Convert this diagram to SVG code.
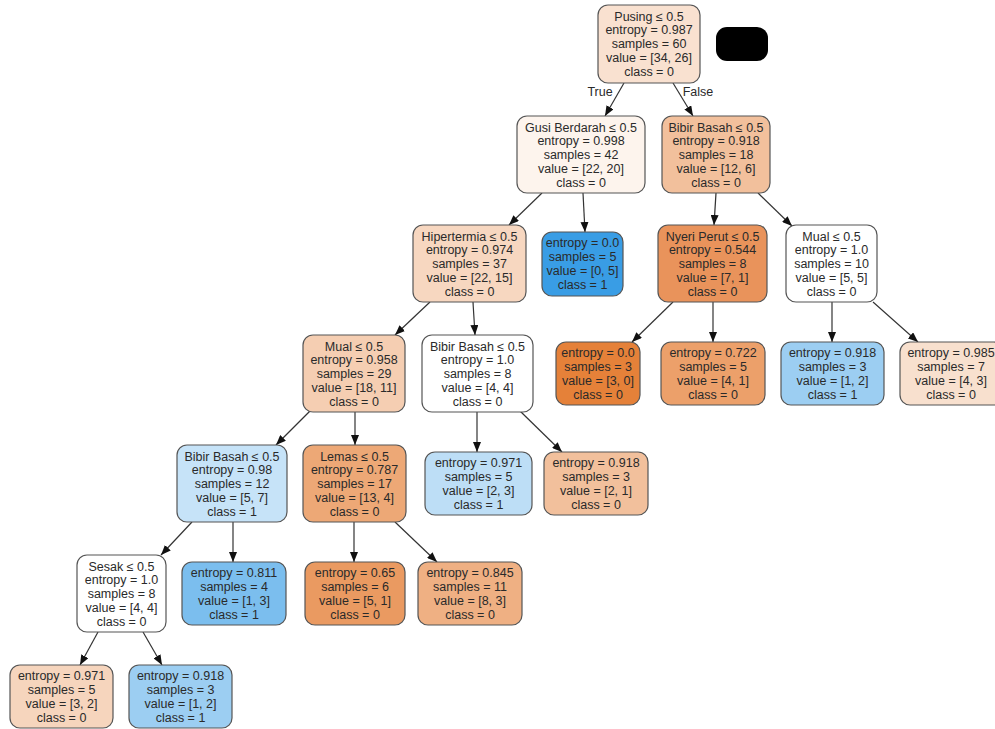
<svg xmlns="http://www.w3.org/2000/svg" width="995" height="729" viewBox="0 0 995 729">
<style>
.n rect{stroke:#555;stroke-width:1.2}
text{font-family:"Liberation Sans",Arial,sans-serif;font-size:12.5px;fill:#2a2a2a;text-anchor:middle}
.e line{stroke:#333;stroke-width:1.2;marker-end:url(#ah)}
</style>
<defs>
<marker id="ah" markerUnits="userSpaceOnUse" markerWidth="10" markerHeight="8" refX="10" refY="4" orient="auto"><path d="M0,0 L10,4 L0,8 Z" fill="#111"/></marker>
</defs>
<rect width="995" height="729" fill="#fff"/>
<g class="e" id="connectors">
<line x1="624" y1="83" x2="605" y2="116"/>
<line x1="673" y1="83" x2="693" y2="116"/>
<line x1="542" y1="193" x2="509" y2="225"/>
<line x1="583" y1="193" x2="585" y2="232"/>
<line x1="716" y1="193" x2="714" y2="225"/>
<line x1="758" y1="193" x2="792" y2="226"/>
<line x1="430" y1="302" x2="395" y2="335"/>
<line x1="473" y1="302" x2="475" y2="335"/>
<line x1="673" y1="302" x2="632" y2="342"/>
<line x1="713" y1="302" x2="713" y2="342"/>
<line x1="832" y1="302" x2="832" y2="342"/>
<line x1="873" y1="302" x2="918" y2="342"/>
<line x1="310" y1="411" x2="276" y2="445"/>
<line x1="355" y1="411" x2="355" y2="445"/>
<line x1="477" y1="411" x2="477" y2="452"/>
<line x1="520" y1="411" x2="562" y2="452"/>
<line x1="192" y1="522" x2="161" y2="555"/>
<line x1="233" y1="522" x2="233" y2="562"/>
<line x1="354" y1="522" x2="354" y2="562"/>
<line x1="395" y1="522" x2="437" y2="562"/>
<line x1="98" y1="632" x2="80" y2="665"/>
<line x1="143" y1="632" x2="162" y2="665"/>
<text x="600" y="96">True</text>
<text x="698" y="96">False</text>
</g>
<rect x="716" y="27" width="52" height="34" rx="11" fill="#000"/>
<g class="n" id="n0"><rect x="598" y="5" width="102" height="78" rx="10" fill="#f9e1d0"/>
<text x="649" y="20.5">Pusing ≤ 0.5</text><text x="649" y="34.3">entropy = 0.987</text><text x="649" y="48.1">samples = 60</text><text x="649" y="61.9">value = [34, 26]</text><text x="649" y="75.7">class = 0</text></g>
<g class="n" id="n1"><rect x="517" y="116" width="128" height="77" rx="10" fill="#fdf4ed"/>
<text x="581" y="131.5">Gusi Berdarah ≤ 0.5</text><text x="581" y="145.3">entropy = 0.998</text><text x="581" y="159.1">samples = 42</text><text x="581" y="172.9">value = [22, 20]</text><text x="581" y="186.7">class = 0</text></g>
<g class="n" id="n2"><rect x="662" y="116" width="108" height="77" rx="10" fill="#f2c09c"/>
<text x="716" y="131.5">Bibir Basah ≤ 0.5</text><text x="716" y="145.3">entropy = 0.918</text><text x="716" y="159.1">samples = 18</text><text x="716" y="172.9">value = [12, 6]</text><text x="716" y="186.7">class = 0</text></g>
<g class="n" id="n3"><rect x="413" y="225" width="113" height="77" rx="10" fill="#f7d7c0"/>
<text x="469.5" y="240.5">Hipertermia ≤ 0.5</text><text x="469.5" y="254.3">entropy = 0.974</text><text x="469.5" y="268.1">samples = 37</text><text x="469.5" y="281.9">value = [22, 15]</text><text x="469.5" y="295.7">class = 0</text></g>
<g class="n" id="n4"><rect x="542" y="232" width="81" height="64" rx="10" fill="#399de5"/>
<text x="582.5" y="247.3">entropy = 0.0</text><text x="582.5" y="261.1">samples = 5</text><text x="582.5" y="274.9">value = [0, 5]</text><text x="582.5" y="288.7">class = 1</text></g>
<g class="n" id="n5"><rect x="658" y="225" width="109" height="77" rx="10" fill="#e9935b"/>
<text x="712.5" y="240.5">Nyeri Perut ≤ 0.5</text><text x="712.5" y="254.3">entropy = 0.544</text><text x="712.5" y="268.1">samples = 8</text><text x="712.5" y="281.9">value = [7, 1]</text><text x="712.5" y="295.7">class = 0</text></g>
<g class="n" id="n6"><rect x="786" y="225" width="91" height="77" rx="10" fill="#ffffff"/>
<text x="831.5" y="240.5">Mual ≤ 0.5</text><text x="831.5" y="254.3">entropy = 1.0</text><text x="831.5" y="268.1">samples = 10</text><text x="831.5" y="281.9">value = [5, 5]</text><text x="831.5" y="295.7">class = 0</text></g>
<g class="n" id="n7"><rect x="303" y="335" width="102" height="77" rx="10" fill="#f5ceb2"/>
<text x="354" y="350.5">Mual ≤ 0.5</text><text x="354" y="364.3">entropy = 0.958</text><text x="354" y="378.1">samples = 29</text><text x="354" y="391.9">value = [18, 11]</text><text x="354" y="405.7">class = 0</text></g>
<g class="n" id="n8"><rect x="422" y="335" width="111" height="77" rx="10" fill="#ffffff"/>
<text x="477.5" y="350.5">Bibir Basah ≤ 0.5</text><text x="477.5" y="364.3">entropy = 1.0</text><text x="477.5" y="378.1">samples = 8</text><text x="477.5" y="391.9">value = [4, 4]</text><text x="477.5" y="405.7">class = 0</text></g>
<g class="n" id="n9"><rect x="556" y="342" width="84" height="63" rx="10" fill="#e58139"/>
<text x="598" y="357.3">entropy = 0.0</text><text x="598" y="371.1">samples = 3</text><text x="598" y="384.9">value = [3, 0]</text><text x="598" y="398.7">class = 0</text></g>
<g class="n" id="n10"><rect x="661" y="342" width="104" height="63" rx="10" fill="#eca06a"/>
<text x="713" y="357.3">entropy = 0.722</text><text x="713" y="371.1">samples = 5</text><text x="713" y="384.9">value = [4, 1]</text><text x="713" y="398.7">class = 0</text></g>
<g class="n" id="n11"><rect x="781" y="342" width="103" height="63" rx="10" fill="#9ccef2"/>
<text x="832.5" y="357.3">entropy = 0.918</text><text x="832.5" y="371.1">samples = 3</text><text x="832.5" y="384.9">value = [1, 2]</text><text x="832.5" y="398.7">class = 1</text></g>
<g class="n" id="n12"><rect x="900" y="342" width="104" height="63" rx="10" fill="#f8e0ce"/>
<text x="951" y="357.3">entropy = 0.985</text><text x="951" y="371.1">samples = 7</text><text x="951" y="384.9">value = [4, 3]</text><text x="951" y="398.7">class = 0</text></g>
<g class="n" id="n13"><rect x="177" y="445" width="110" height="77" rx="10" fill="#c6e3f8"/>
<text x="232" y="460.5">Bibir Basah ≤ 0.5</text><text x="232" y="474.3">entropy = 0.98</text><text x="232" y="488.1">samples = 12</text><text x="232" y="501.9">value = [5, 7]</text><text x="232" y="515.7">class = 1</text></g>
<g class="n" id="n14"><rect x="303" y="445" width="103" height="77" rx="10" fill="#eda876"/>
<text x="354.5" y="460.5">Lemas ≤ 0.5</text><text x="354.5" y="474.3">entropy = 0.787</text><text x="354.5" y="488.1">samples = 17</text><text x="354.5" y="501.9">value = [13, 4]</text><text x="354.5" y="515.7">class = 0</text></g>
<g class="n" id="n15"><rect x="425" y="452" width="107" height="63" rx="10" fill="#bddef6"/>
<text x="478.5" y="467.3">entropy = 0.971</text><text x="478.5" y="481.1">samples = 5</text><text x="478.5" y="494.9">value = [2, 3]</text><text x="478.5" y="508.7">class = 1</text></g>
<g class="n" id="n16"><rect x="544" y="452" width="104" height="63" rx="10" fill="#f2c09c"/>
<text x="596" y="467.3">entropy = 0.918</text><text x="596" y="481.1">samples = 3</text><text x="596" y="494.9">value = [2, 1]</text><text x="596" y="508.7">class = 0</text></g>
<g class="n" id="n17"><rect x="77" y="555" width="89" height="77" rx="10" fill="#ffffff"/>
<text x="121.5" y="570.5">Sesak ≤ 0.5</text><text x="121.5" y="584.3">entropy = 1.0</text><text x="121.5" y="598.1">samples = 8</text><text x="121.5" y="611.9">value = [4, 4]</text><text x="121.5" y="625.7">class = 0</text></g>
<g class="n" id="n18"><rect x="182" y="562" width="104" height="63" rx="10" fill="#7bbeee"/>
<text x="234" y="577.3">entropy = 0.811</text><text x="234" y="591.1">samples = 4</text><text x="234" y="604.9">value = [1, 3]</text><text x="234" y="618.7">class = 1</text></g>
<g class="n" id="n19"><rect x="305" y="562" width="100" height="63" rx="10" fill="#ea9a61"/>
<text x="355" y="577.3">entropy = 0.65</text><text x="355" y="591.1">samples = 6</text><text x="355" y="604.9">value = [5, 1]</text><text x="355" y="618.7">class = 0</text></g>
<g class="n" id="n20"><rect x="418" y="562" width="104" height="63" rx="10" fill="#efb083"/>
<text x="470" y="577.3">entropy = 0.845</text><text x="470" y="591.1">samples = 11</text><text x="470" y="604.9">value = [8, 3]</text><text x="470" y="618.7">class = 0</text></g>
<g class="n" id="n21"><rect x="10" y="665" width="103" height="63" rx="10" fill="#f6d5bd"/>
<text x="61.5" y="680.3">entropy = 0.971</text><text x="61.5" y="694.1">samples = 5</text><text x="61.5" y="707.9">value = [3, 2]</text><text x="61.5" y="721.7">class = 0</text></g>
<g class="n" id="n22"><rect x="129" y="665" width="103" height="63" rx="10" fill="#9ccef2"/>
<text x="180.5" y="680.3">entropy = 0.918</text><text x="180.5" y="694.1">samples = 3</text><text x="180.5" y="707.9">value = [1, 2]</text><text x="180.5" y="721.7">class = 1</text></g>
</svg>
